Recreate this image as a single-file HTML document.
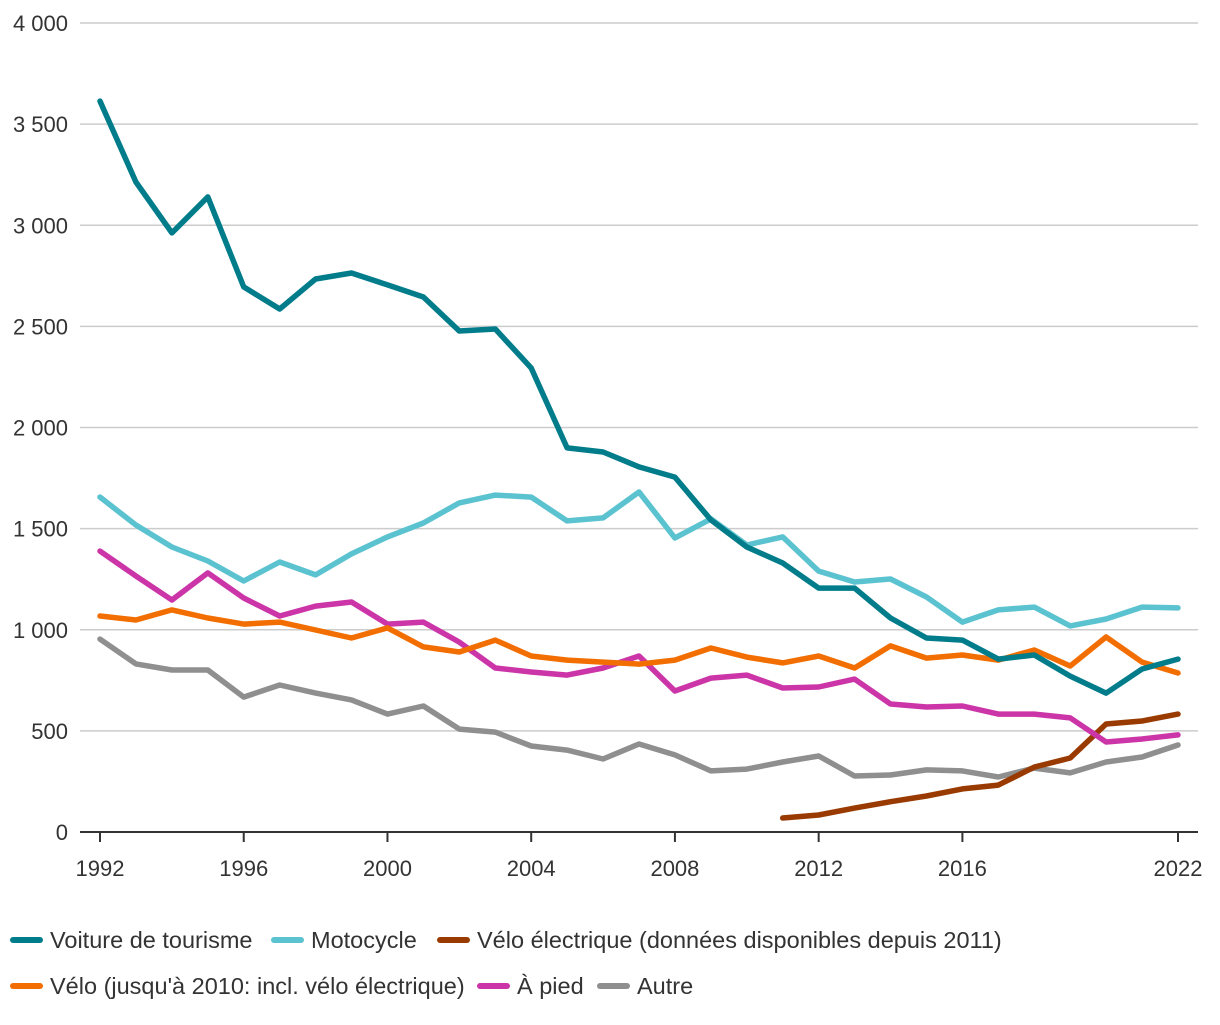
<!DOCTYPE html>
<html><head><meta charset="utf-8"><style>
body{margin:0;background:#fff;width:1220px;height:1020px;overflow:hidden;font-family:"Liberation Sans",sans-serif;}
svg text{font-family:"Liberation Sans",sans-serif;fill:#333;}
</style></head><body>
<svg id="chart" width="1220" height="1020" xmlns="http://www.w3.org/2000/svg"></svg>
<script>
const years=[1992,1993,1994,1995,1996,1997,1998,1999,2000,2001,2002,2003,2004,2005,2006,2007,2008,2009,2010,2011,2012,2013,2014,2015,2016,2017,2018,2019,2020,2021,2022];
const voiture=[3614,3214,2962,3140,2695,2586,2734,2764,2705,2645,2477,2487,2294,1899,1879,1805,1755,1543,1409,1330,1206,1206,1058,959,949,855,875,771,687,806,855];
const moto=[1656,1518,1409,1340,1241,1335,1271,1375,1459,1528,1627,1666,1656,1538,1553,1681,1454,1548,1419,1459,1290,1236,1251,1162,1038,1098,1112,1019,1053,1112,1108];
const veloElecYears=[2011,2012,2013,2014,2015,2016,2017,2018,2019,2020,2021,2022];
const veloElec=[69,84,118,150,178,213,232,321,366,534,549,583];
const velo=[1068,1048,1098,1058,1028,1038,999,959,1009,915,890,949,870,850,840,830,850,910,865,836,870,811,920,860,875,850,900,821,964,840,786];
const pied=[1389,1266,1147,1281,1157,1068,1117,1137,1028,1038,939,811,791,776,811,870,697,761,776,712,717,756,633,618,623,583,583,564,445,460,480];
const autre=[954,831,801,801,667,727,687,653,583,623,509,494,425,405,361,435,381,302,311,346,376,277,282,307,302,272,316,292,346,371,430];
const yTicks=[0,500,1000,1500,2000,2500,3000,3500,4000];
const yTickLabels=["0","500","1 000","1 500","2 000","2 500","3 000","3 500","4 000"];
const xTicks=[1992,1996,2000,2004,2008,2012,2016,2022];

const NS="http://www.w3.org/2000/svg";
const svg=document.getElementById('chart');
const X=y=>100+(y-1992)*(1178-100)/30;
const Y=v=>832-v*(832-23)/4000;
function mk(t,a){const e=document.createElementNS(NS,t);for(const k in a)e.setAttribute(k,a[k]);svg.appendChild(e);return e;}

yTicks.forEach((v,i)=>{
  if(v>0){const g=mk('line',{x1:80,x2:1198,y1:Y(v),y2:Y(v),stroke:'#cccccc','stroke-width':1.5});
  
  }
  const t=mk('text',{x:68,y:Y(v)+8,'text-anchor':'end','font-size':22});
  t.textContent=yTickLabels[i];
  
  
});
const ax=mk('line',{x1:80,x2:1198,y1:832,y2:832,stroke:'#333','stroke-width':2});


xTicks.forEach(yr=>{
  const l=mk('line',{x1:X(yr),x2:X(yr),y1:832,y2:842,stroke:'#333','stroke-width':2});
  
  
  const t=mk('text',{x:X(yr),y:876,'text-anchor':'middle','font-size':22});
  t.textContent=yr;
  
  
});

const series=[
 ['autre',years,autre,'#8f8f8f'],
 ['velo-electrique',veloElecYears,veloElec,'#993a00'],
 ['a-pied',years,pied,'#cc35a8'],
 ['velo',years,velo,'#f26e00'],
 ['motocycle',years,moto,'#5bc2d0'],
 ['voiture-de-tourisme',years,voiture,'#007c8a']
];
series.forEach(s=>{
  const d=s[1].map((yr,i)=>(i?'L':'M')+X(yr).toFixed(1)+' '+Y(s[2][i]).toFixed(1)).join(' ');
  const p=mk('path',{d:d,fill:'none',stroke:s[3],'stroke-width':5.5,'stroke-linejoin':'round','stroke-linecap':'round'});
  
  
});

const legend=[
 [10,940,'#007c8a','Voiture de tourisme'],
 [271,940,'#5bc2d0','Motocycle'],
 [437,940,'#993a00','Vélo électrique (données disponibles depuis 2011)'],
 [10,986,'#f26e00',"Vélo (jusqu'à 2010: incl. vélo électrique)"],
 [477,986,'#cc35a8','À pied'],
 [597,986,'#8f8f8f','Autre']
];
legend.forEach(l=>{
  const s=mk('line',{x1:l[0]+3,x2:l[0]+30,y1:l[1],y2:l[1],stroke:l[2],'stroke-width':6,'stroke-linecap':'round'});
  
  
  const t=mk('text',{x:l[0]+40,y:l[1]+8,'font-size':23.5});
  t.textContent=l[3];
  
  
});
</script>
</body></html>
